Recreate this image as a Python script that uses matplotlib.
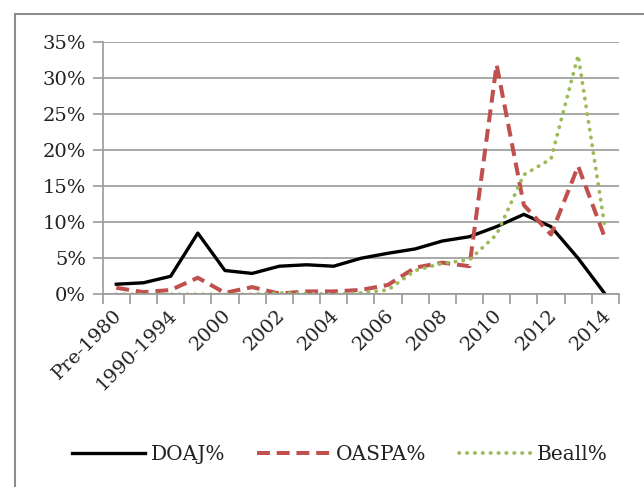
import matplotlib.pyplot as plt
from matplotlib.patches import Rectangle
from matplotlib.ticker import FixedLocator, PercentFormatter
import matplotlib.transforms as mtransforms

categories = ['Pre-1980', '1980-1989', '1990-1994', '1995-1999',
              '2000', '2001', '2002', '2003', '2004', '2005', '2006',
              '2007', '2008', '2009', '2010', '2011', '2012', '2013', '2014']
doaj = [1.4, 1.6, 2.5, 8.5, 3.3, 2.9, 3.9, 4.1, 3.9, 5.0,
        5.7, 6.3, 7.4, 8.0, 9.4, 11.1, 9.4, 5.0, 0.0]
oaspa = [0.9, 0.3, 0.6, 2.3, 0.2, 1.0, 0.1, 0.4, 0.4, 0.6,
         1.3, 3.7, 4.4, 3.9, 31.9, 12.4, 8.3, 17.8, 7.7]
beall = [0.0, 0.0, 0.0, 0.0, 0.0, 0.0, 0.2, 0.1, 0.0, 0.2,
         0.6, 3.3, 4.3, 4.8, 8.3, 16.6, 18.8, 33.2, 9.0]

font = 'DejaVu Serif'
grey = '#9a9a9a'

fig = plt.figure(figsize=(6.44, 4.87), dpi=100)
ax = fig.add_axes([0.1595, 0.3957, 0.8015, 0.5174])

x = range(len(categories))
ax.plot(x, doaj, color='black', lw=2.4, label='DOAJ%')
ax.plot(x, oaspa, color='#c0504d', lw=2.9, ls=(0, (3.2, 1.7)), label='OASPA%')
ax.plot(x, beall, color='#9bbb59', lw=2.7, ls=(0, (0.1, 2.0)),
        dash_capstyle='round', label='Beall%')

ax.set_xlim(-0.5, len(categories) - 0.5)
ax.set_ylim(0, 35)
ax.yaxis.set_major_locator(FixedLocator(range(0, 36, 5)))
ax.yaxis.set_major_formatter(PercentFormatter(decimals=0))
ax.grid(axis='y', color=grey, lw=1.2)
ax.set_axisbelow(True)

# labels on every other category, tick marks between categories
ax.set_xticks(list(x)[::2])
ax.set_xticklabels(categories[::2])
ax.set_xticks([i - 0.5 for i in range(len(categories) + 1)], minor=True)
ax.tick_params(axis='x', which='major', length=0, pad=13)
ax.tick_params(axis='x', which='minor', length=7, color=grey, width=1.2)
ax.tick_params(axis='y', length=7, color=grey, width=1.2, pad=5)

offset = mtransforms.ScaledTranslation(3 / 100, 0, fig.dpi_scale_trans)
for lab in ax.get_xticklabels():
    lab.set_rotation(45)
    lab.set_ha('right')
    lab.set_va('center')
    lab.set_rotation_mode('anchor')
    lab.set_fontfamily(font)
    lab.set_fontsize(14)
    lab.set_color('#222222')
    lab.set_transform(lab.get_transform() + offset)
for lab in ax.get_yticklabels():
    lab.set_fontfamily(font)
    lab.set_fontsize(14)
    lab.set_color('#222222')

for side in ['top', 'right']:
    ax.spines[side].set_visible(False)
for side in ['left', 'bottom']:
    ax.spines[side].set_color(grey)
    ax.spines[side].set_linewidth(1.2)

fig.legend(loc='center', bbox_to_anchor=(0.528, 0.066), ncol=3, frameon=False,
           handlelength=3.6, handletextpad=0.3, columnspacing=1.6,
           prop={'family': font, 'size': 14.5}, labelcolor='#222222')

fig.patches.append(Rectangle((14.5 / 644, -0.1), 1.2, 1.1 - 14 / 487,
                             transform=fig.transFigure, fill=False,
                             edgecolor='#8c8c8c', lw=1.5))

fig.savefig('out.png', dpi=100)
